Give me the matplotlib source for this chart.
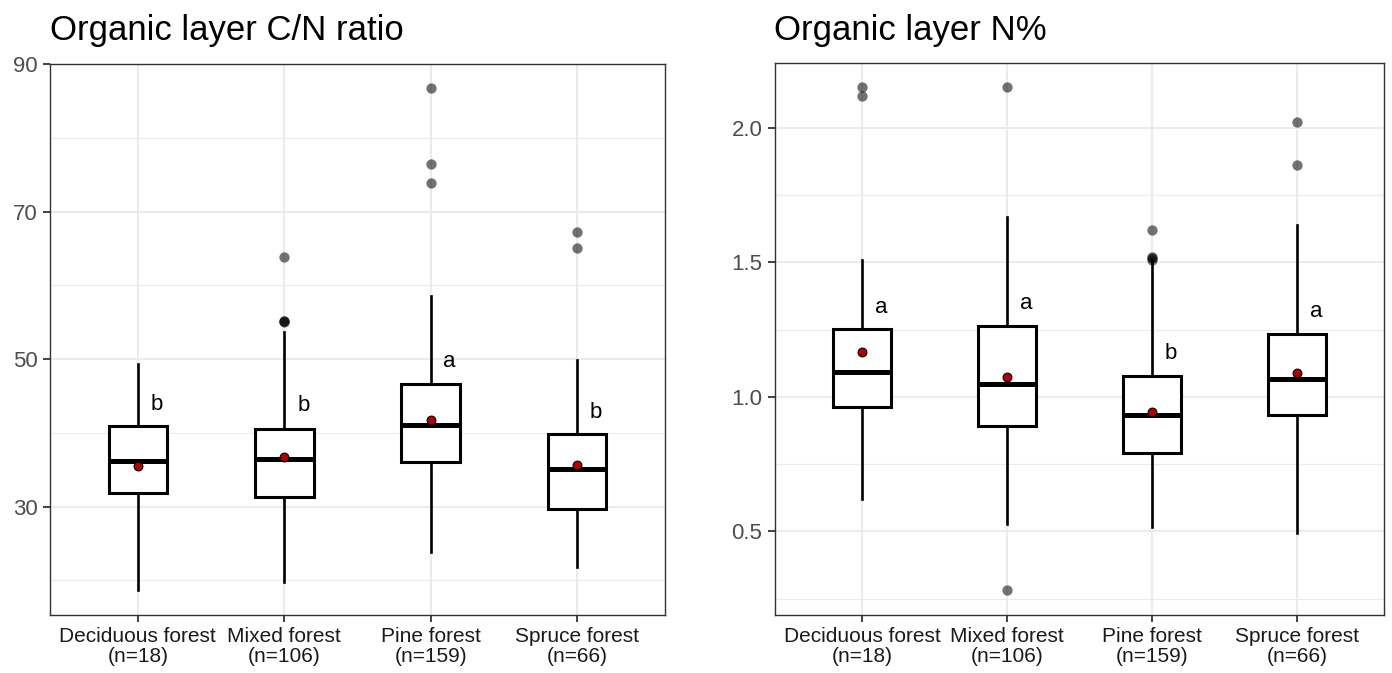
import matplotlib
matplotlib.use("Agg")
import matplotlib.pyplot as plt
from matplotlib.ticker import FixedLocator, FormatStrFormatter

plt.rcParams['font.family'] = ['Liberation Sans', 'DejaVu Sans']

# ---------------- data ----------------
categories = ["Deciduous forest\n(n=18)", "Mixed forest\n(n=106)",
              "Pine forest\n(n=159)", "Spruce forest\n(n=66)"]

# C/N ratio panel
cn_whislo = [18.7, 19.8, 23.9, 21.8]
cn_q1 = [31.8, 31.3, 36.0, 29.7]
cn_med = [36.2, 36.4, 41.0, 35.1]
cn_q3 = [40.9, 40.5, 46.6, 39.8]
cn_whishi = [49.3, 53.6, 58.5, 49.9]
cn_mean = [35.5, 36.7, 41.8, 35.7]
cn_outliers = [[], [55.0, 55.1, 55.2, 63.9], [73.8, 76.5, 86.8], [65.1, 67.2]]
cn_letters = ["b", "b", "a", "b"]
cn_letter_y = [43.9, 43.7, 49.6, 42.7]

# N% panel
n_whislo = [0.622, 0.526, 0.515, 0.494]
n_q1 = [0.962, 0.893, 0.791, 0.931]
n_med = [1.093, 1.047, 0.931, 1.066]
n_q3 = [1.251, 1.265, 1.077, 1.234]
n_whishi = [1.507, 1.669, 1.510, 1.637]
n_mean = [1.168, 1.072, 0.945, 1.090]
n_outliers = [[2.119, 2.152], [0.283, 2.150], [1.510, 1.515, 1.520, 1.622], [1.862, 2.022]]
n_letters = ["a", "a", "b", "a"]
n_letter_y = [1.332, 1.347, 1.162, 1.317]

titles = ["Organic layer C/N ratio", "Organic layer N%"]

# ---------------- figure ----------------
W, H = 1392, 673
fig = plt.figure(figsize=(W / 100, H / 100), dpi=100)

def px_axes(x0, y0, x1, y1):
    return fig.add_axes([x0 / W, 1 - y1 / H, (x1 - x0) / W, (y1 - y0) / H])

ax1 = px_axes(50, 64, 665, 615)
ax2 = px_axes(775, 63, 1384, 615)

positions = [1, 2, 3, 4]

def draw_panel(ax, whislo, q1, med, q3, whishi, mean, outliers, letters, letter_y,
               ylim, major, minor, fmt):
    ax.set_xlim(0.4, 4.6)
    ax.set_ylim(*ylim)
    ax.yaxis.set_major_locator(FixedLocator(major))
    ax.yaxis.set_minor_locator(FixedLocator(minor))
    ax.yaxis.set_major_formatter(FormatStrFormatter(fmt))
    ax.set_xticks(positions)
    ax.set_xticklabels(categories, fontsize=15, color='#1a1a1a', linespacing=1.05)
    ax.grid(True, which='major', color='#EBEBEB', linewidth=1.5, zorder=0)
    ax.grid(True, which='minor', axis='y', color='#EBEBEB', linewidth=0.8, zorder=0)
    ax.set_axisbelow(True)
    for s in ax.spines.values():
        s.set_color('#333333')
        s.set_linewidth(1.0)
    ax.tick_params(axis='both', which='major', length=5, width=1.3, color='#333333',
                   labelsize=16, labelcolor='#4D4D4D', pad=4)
    ax.tick_params(axis='x', labelcolor='#1a1a1a', labelsize=15, pad=4)
    ax.tick_params(axis='y', which='minor', length=0)

    stats = []
    for i in range(4):
        stats.append(dict(whislo=whislo[i], q1=q1[i], med=med[i], q3=q3[i],
                          whishi=whishi[i], fliers=[]))
    ax.bxp(stats, positions=positions, widths=0.4, showfliers=False, showcaps=False,
           patch_artist=True,
           boxprops=dict(facecolor='white', edgecolor='black', linewidth=2.2),
           medianprops=dict(color='black', linewidth=3.6, solid_capstyle='butt'),
           whiskerprops=dict(color='black', linewidth=1.9),
           manage_ticks=False, zorder=3)
    for i in range(4):
        ys = outliers[i]
        ax.scatter([positions[i]] * len(ys), ys, s=55, color='black', alpha=0.55,
                   linewidths=0, zorder=4)
    ax.scatter(positions, mean, s=40, color='#B00000', edgecolors='black',
               linewidths=0.8, zorder=5)
    for i in range(4):
        ax.text(positions[i] + 0.13, letter_y[i], letters[i], ha='center', va='center',
                fontsize=16, color='black', zorder=6)

draw_panel(ax1, cn_whislo, cn_q1, cn_med, cn_q3, cn_whishi, cn_mean, cn_outliers,
           cn_letters, cn_letter_y, (15.3, 90), [30, 50, 70, 90], [20, 40, 60, 80], '%d')
draw_panel(ax2, n_whislo, n_q1, n_med, n_q3, n_whishi, n_mean, n_outliers,
           n_letters, n_letter_y, (0.189, 2.241), [0.5, 1.0, 1.5, 2.0],
           [0.25, 0.75, 1.25, 1.75], '%.1f')

fig.text(50 / W, 1 - 40 / H, titles[0], fontsize=25, va='baseline', ha='left', color='black')
fig.text(774 / W, 1 - 40 / H, titles[1], fontsize=25, va='baseline', ha='left', color='black')

fig.savefig("out.png", dpi=100, facecolor='white')
